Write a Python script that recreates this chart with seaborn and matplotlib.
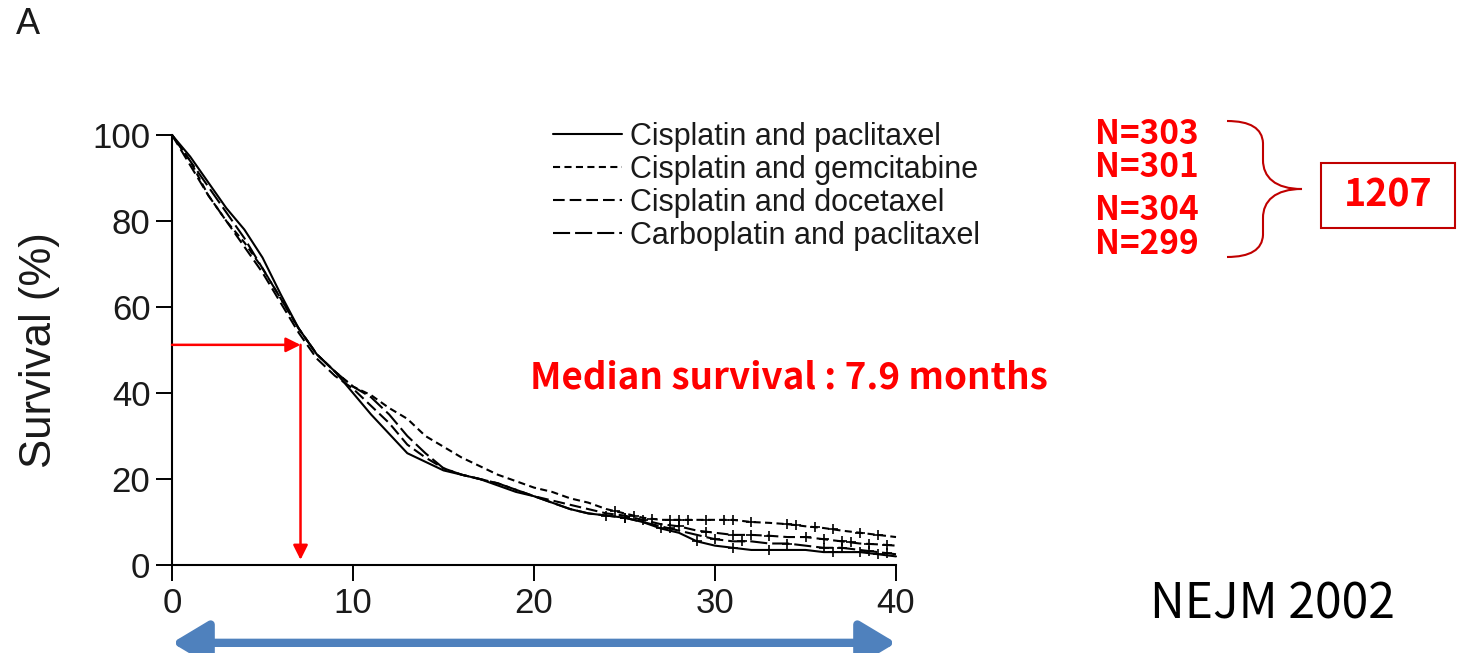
import numpy as np
import pandas as pd
import matplotlib
matplotlib.use("Agg")
import matplotlib.pyplot as plt
from matplotlib.path import Path
from matplotlib.patches import PathPatch, Rectangle
import seaborn as sns

# ---------------- data ----------------
months = list(range(0, 41))

cis_pac = [100, 95, 89, 83, 78, 71.5, 63, 55, 49, 45, 40, 35, 30.5, 26, 24, 22, 21, 20,
           18.5, 17, 16, 14.5, 13, 12, 11.5, 11, 10, 8.5, 7.5, 5.5, 4.5, 4, 3.5, 3.5,
           3.5, 3.5, 3, 3, 3, 2.5, 2]
cis_gem = [100, 94, 86, 80, 75, 69, 62, 55, 49, 45, 41.5, 39.5, 36.5, 34, 30, 27.5, 25,
           23, 21, 19.5, 18, 17, 15.5, 14.5, 13, 12, 11, 10.5, 10.5, 10.5, 10.5, 10.5,
           10, 9.8, 9.5, 9, 8.6, 8, 7.5, 7, 6.5]
cis_doc = [100, 93, 86, 80, 74, 68, 61, 54, 48, 44, 41, 37, 33, 28, 25, 22.5, 21, 20,
           19, 17.5, 16, 15, 14, 13, 12, 11.5, 10.5, 9.5, 9, 8, 7.5, 7, 7, 6.8, 6.5,
           6.5, 6, 5.5, 5, 4.8, 4.5]
carbo_pac = [100, 94, 88, 82, 76, 69, 62, 55, 49, 45, 41.5, 39, 35, 30, 26, 22.5, 21,
             20, 19, 17.5, 16, 14.5, 13, 12, 11.5, 11, 10, 9, 8, 7, 6, 5.5, 5.5, 5, 5,
             4.5, 4, 4, 3.5, 3, 2.5]

labels = ["Cisplatin and paclitaxel", "Cisplatin and gemcitabine",
          "Cisplatin and docetaxel", "Carboplatin and paclitaxel"]
n_labels = ["N=303", "N=301", "N=304", "N=299"]
total_label = "1207"

censor_cis_pac = [24, 25, 27, 29, 31, 33, 36.5, 38, 39]
censor_cis_gem = [24.5, 25.5, 26.5, 27.5, 28, 28.5, 29.5, 30.5, 31, 32, 34, 34.5,
                  35.5, 36.5, 38, 39]
censor_cis_doc = [26, 28, 29.5, 31, 32, 33, 35, 36, 37, 37.5, 38.5, 39.5]
censor_carbo_pac = [25, 27.5, 30, 31.5, 34, 36, 37, 38.5, 39.5]

median_x = 7.1
median_y = 51.2
x_ticks = [0, 10, 20, 30, 40]
y_ticks = [0, 20, 40, 60, 80, 100]

# ---------------- build ----------------
series = [cis_pac, cis_gem, cis_doc, carbo_pac]
censors = [censor_cis_pac, censor_cis_gem, censor_cis_doc, censor_carbo_pac]
df = pd.concat([pd.DataFrame({"month": months, "survival": s, "regimen": lab})
                for s, lab in zip(series, labels)], ignore_index=True)

sns.set_theme(style="ticks")
plt.rcParams["font.family"] = ["Liberation Sans", "DejaVu Sans"]

W, H = 1459, 653
fig = plt.figure(figsize=(W / 100, H / 100), dpi=100)
ax = fig.add_axes([172 / W, 1 - 565 / H, (896 - 172) / W, (565 - 135) / H])

dashes = {labels[0]: "", labels[1]: (3.4, 2.1), labels[2]: (5.6, 2.4), labels[3]: (8.2, 2.4)}
sns.lineplot(data=df, x="month", y="survival", hue="regimen", style="regimen",
             palette=["black"] * 4, dashes=dashes, linewidth=1.5, estimator=None,
             ax=ax, legend=True)
for ln in ax.get_lines():
    ln.set_clip_on(False)

for s, c in zip(series, censors):
    cy = np.interp(c, months, s)
    ax.plot(c, cy, linestyle="none", marker="+", color="black", markersize=7,
            markeredgewidth=1.2, clip_on=False)

ax.set_xlim(0, 40)
ax.set_ylim(0, 100)
ax.set_xticks(x_ticks)
ax.set_yticks(y_ticks)
ax.tick_params(axis="both", length=11.5, width=1.4, direction="out",
               labelsize=25, pad=4, color="black", labelcolor="#1a1a1a")
for sp in ["left", "bottom"]:
    ax.spines[sp].set_linewidth(1.5)
    ax.spines[sp].set_color("black")
sns.despine(ax=ax)
ax.set_xlabel("")
ax.set_ylabel("Survival (%)", fontsize=31.5, color="#1a1a1a", labelpad=23)

sns.move_legend(ax, "upper left", bbox_to_anchor=(553 / W, 1 - 122 / H),
                bbox_transform=fig.transFigure, frameon=False, title=None,
                fontsize=22, handlelength=2.25, handletextpad=0.26,
                labelspacing=0.1, borderpad=0, borderaxespad=0)
leg = ax.get_legend()
for t in leg.get_texts():
    t.set_color("#1a1a1a")
for h in leg.get_lines():
    h.set_linewidth(1.5)

# red median arrows
ax.annotate("", xy=(median_x, median_y), xytext=(0, median_y),
            arrowprops=dict(arrowstyle="-|>", color="red", lw=1.8,
                            mutation_scale=22, shrinkA=0, shrinkB=0),
            annotation_clip=False)
ax.annotate("", xy=(median_x, 1.2), xytext=(median_x, median_y),
            arrowprops=dict(arrowstyle="-|>", color="red", lw=1.8,
                            mutation_scale=22, shrinkA=0, shrinkB=0),
            annotation_clip=False)

# blue double arrow under the x axis
ax.annotate("", xy=(0, -0.181), xytext=(40, -0.181),
            xycoords=("data", "axes fraction"), textcoords=("data", "axes fraction"),
            arrowprops=dict(arrowstyle="<|-|>,head_length=1.0,head_width=0.6",
                            color="#4F81BD", lw=6, mutation_scale=22,
                            shrinkA=0, shrinkB=0),
            annotation_clip=False)

def fp(px, py):
    return (px / W, 1 - py / H)

kr = ["Noto Sans CJK KR", "DejaVu Sans"]

fig.text(*fp(16, 24), "A", fontsize=26, ha="left", va="center", color="#1a1a1a")
fig.text(*fp(530, 378), "Median survival : 7.9 months", fontsize=26.5,
         fontweight="bold", color="red", ha="left", va="center", family=kr)
for lab, py in zip(n_labels, [134, 168, 210, 245]):
    fig.text(*fp(1095, py), lab, fontsize=24, fontweight="bold", color="red",
             ha="left", va="center", family=kr)

# brace
pts = [fp(1227, 121), fp(1262, 121), fp(1263, 143), fp(1263, 160),
       fp(1263, 177), fp(1275, 189), fp(1302, 189),
       fp(1275, 189), fp(1263, 201), fp(1263, 218),
       fp(1263, 235), fp(1262, 257), fp(1227, 257)]
codes = [Path.MOVETO, Path.CURVE3, Path.CURVE3, Path.LINETO,
         Path.CURVE4, Path.CURVE4, Path.CURVE4,
         Path.CURVE4, Path.CURVE4, Path.CURVE4,
         Path.LINETO, Path.CURVE3, Path.CURVE3]
fig.add_artist(PathPatch(Path(pts, codes), facecolor="none", edgecolor="#C00000",
                         lw=1.5, transform=fig.transFigure))

x0, y0 = fp(1321, 228)
fig.add_artist(Rectangle((x0, y0), 134 / W, 65 / H, facecolor="none",
                         edgecolor="#C00000", lw=1.5, transform=fig.transFigure))
fig.text(*fp(1388, 195), total_label, fontsize=27, fontweight="bold", color="red",
         ha="center", va="center", family=kr)

fig.text(*fp(1150, 605), "NEJM 2002", fontsize=34.5, color="black", ha="left",
         va="center", family=kr)

fig.savefig("out.png", dpi=100)
